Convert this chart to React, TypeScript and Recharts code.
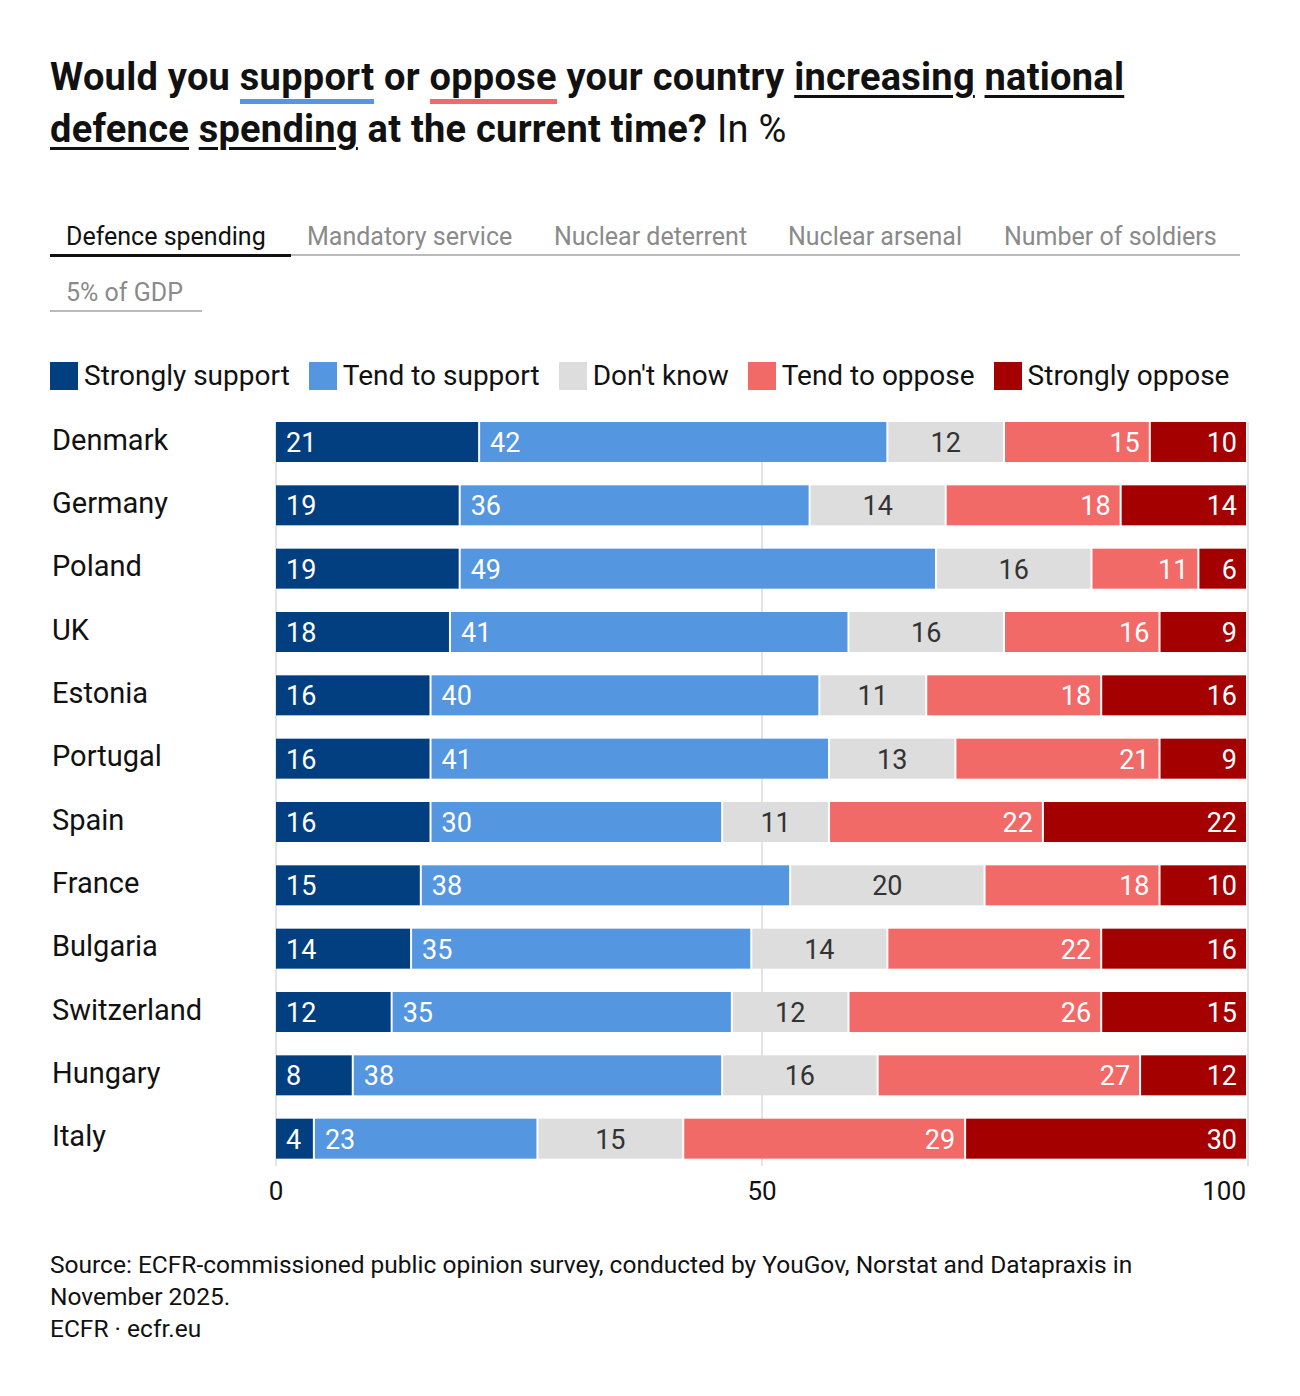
import { BarChart, Bar, XAxis, YAxis, CartesianGrid, LabelList } from 'recharts'

// Survey shares in %, one array per answer, in country order
const countries = ['Denmark', 'Germany', 'Poland', 'UK', 'Estonia', 'Portugal', 'Spain', 'France', 'Bulgaria', 'Switzerland', 'Hungary', 'Italy']
const stronglySupport = [21, 19, 19, 18, 16, 16, 16, 15, 14, 12, 8, 4]
const tendToSupport = [42, 36, 49, 41, 40, 41, 30, 38, 35, 35, 38, 23]
const dontKnow = [12, 14, 16, 16, 11, 13, 11, 20, 14, 12, 16, 15]
const tendToOppose = [15, 18, 11, 16, 18, 21, 22, 18, 22, 26, 27, 29]
const stronglyOppose = [10, 14, 6, 9, 16, 9, 22, 10, 16, 15, 12, 30]
const xTicks = [0, 50, 100]

const tabs = ['Defence spending', 'Mandatory service', 'Nuclear deterrent', 'Nuclear arsenal', 'Number of soldiers', '5% of GDP']
const tabWidths = [241, 247, 234, 216, 252, 152]

const FONT = 'Roboto, "Noto Sans", sans-serif'

const series = [
  { key: 'ss', name: 'Strongly support', color: '#023f80', text: '#ffffff', align: 'start' },
  { key: 'ts', name: 'Tend to support', color: '#5496e0', text: '#ffffff', align: 'start' },
  { key: 'dk', name: "Don't know", color: '#dddddd', text: '#333333', align: 'middle' },
  { key: 'to', name: 'Tend to oppose', color: '#f26a68', text: '#ffffff', align: 'end' },
  { key: 'so', name: 'Strongly oppose', color: '#a50000', text: '#ffffff', align: 'end' },
] as const

const data = countries.map((country, i) => ({
  country,
  ss: stronglySupport[i],
  ts: tendToSupport[i],
  dk: dontKnow[i],
  to: tendToOppose[i],
  so: stronglyOppose[i],
}))

// chart geometry
const CHART_W = 1284
const CHART_H = 840
const MARGIN = { top: 10, right: 44, bottom: 0, left: 0 }
const Y_AXIS_W = 268
const PLOT_RIGHT = CHART_W - MARGIN.right
const GAP = 2

// segments leave a thin white gap on their right edge
function Segment(props: any) {
  const { x, y, width, height, fill } = props
  if (!width || width <= 0) return null
  return <rect x={x} y={y} width={Math.max(0, width - GAP)} height={height} fill={fill} />
}

function makeLabel(align: 'start' | 'middle' | 'end', color: string) {
  return (props: any) => {
    const { x, y, width, height, value } = props
    const right = Math.min(x + width, PLOT_RIGHT) - GAP
    let tx = x + 10
    if (align === 'middle') tx = x + (right - x) / 2
    if (align === 'end') tx = right - 9
    return (
      <text
        x={tx}
        y={y + height / 2 + 1}
        textAnchor={align}
        dominantBaseline="central"
        fill={color}
        fontSize={27}
        fontFamily={FONT}
      >
        {value}
      </text>
    )
  }
}

function CountryTick({ y, payload }: any) {
  return (
    <text x={44} y={y - 2} textAnchor="start" dominantBaseline="central" fontSize={29} fill="#111" fontFamily={FONT}>
      {payload.value}
    </text>
  )
}

function ValueTick({ x, y, payload, index }: any) {
  const last = index === xTicks.length - 1
  return (
    <text x={last ? x - 2 : x} y={y + 28} textAnchor={last ? 'end' : 'middle'} fontSize={26} fill="#111" fontFamily={FONT}>
      {payload.value}
    </text>
  )
}

const ul = { textDecoration: 'underline', textDecorationThickness: 3, textUnderlineOffset: 5, textDecorationSkipInk: 'auto' as const }

export default function App() {
  return (
    <div style={{ position: 'relative', width: CHART_W, height: 1380, fontFamily: FONT, color: '#111' }}>
      <div style={{ position: 'absolute', left: 42, top: 43, fontSize: 38, lineHeight: '52px', fontWeight: 700, width: 1230, letterSpacing: 0.25 }}>
        Would you <span style={{ borderBottom: '5px solid #5496e0', paddingBottom: 0 }}>support</span> or{' '}
        <span style={{ borderBottom: '5px solid #f26a68', paddingBottom: 0 }}>oppose</span> your country{' '}
        <span style={ul}>increasing</span> <span style={ul}>national</span>
        <br />
        <span style={ul}>defence</span> <span style={ul}>spending</span> at the current time?{' '}
        <span style={{ fontWeight: 400 }}>In %</span>
      </div>

      <div style={{ position: 'absolute', left: 42, top: 214, width: 1200, display: 'flex', flexWrap: 'wrap', rowGap: 21, alignItems: 'flex-start' }}>
        {tabs.map((t, i) => (
          <div
            key={t}
            style={{
              width: tabWidths[i],
              boxSizing: 'border-box',
              paddingLeft: 16,
              fontSize: 25,
              lineHeight: '30px',
              paddingBottom: 2,
              color: i === 0 ? '#111' : '#8a8a8a',
              borderBottom: i === 0 ? '3px solid #111' : '2px solid #bbbbbb',
              whiteSpace: 'nowrap',
            }}
          >
            {t}
          </div>
        ))}
      </div>

      <div style={{ position: 'absolute', left: 42, top: 354, display: 'flex', gap: 19, alignItems: 'center' }}>
        {series.map((s) => (
          <div key={s.key} style={{ display: 'flex', alignItems: 'center', fontSize: 28, lineHeight: '28px' }}>
            <span style={{ width: 28, height: 28, background: s.color, marginRight: 6, display: 'inline-block' }} />
            {s.name}
          </div>
        ))}
      </div>

      <div style={{ position: 'absolute', left: 0, top: 392 }}>
        <BarChart width={CHART_W} height={CHART_H} data={data} layout="vertical" margin={MARGIN} barSize={40}>
          <CartesianGrid horizontal={false} vertical stroke="#e4e4e4" strokeWidth={2} y={22} height={744} />
          <XAxis
            type="number"
            domain={[0, 100]}
            ticks={xTicks}
            allowDataOverflow
            axisLine={false}
            tickLine={false}
            tickSize={0}
            tick={<ValueTick />}
            height={70}
          />
          <YAxis
            type="category"
            dataKey="country"
            width={Y_AXIS_W}
            axisLine={false}
            tickLine={false}
            tick={<CountryTick />}
          />
          {series.map((s) => (
            <Bar key={s.key} dataKey={s.key} name={s.name} stackId="a" fill={s.color} shape={<Segment />} isAnimationActive={false}>
              <LabelList dataKey={s.key} content={makeLabel(s.align, s.text)} />
            </Bar>
          ))}
        </BarChart>
      </div>

      <div style={{ position: 'absolute', left: 42, top: 1241, fontSize: 24.5, lineHeight: '32px', color: '#111', width: 1200 }}>
        Source: ECFR-commissioned public opinion survey, conducted by YouGov, Norstat and Datapraxis in
        <br />
        November 2025.
        <br />
        ECFR · ecfr.eu
      </div>
    </div>
  )
}
